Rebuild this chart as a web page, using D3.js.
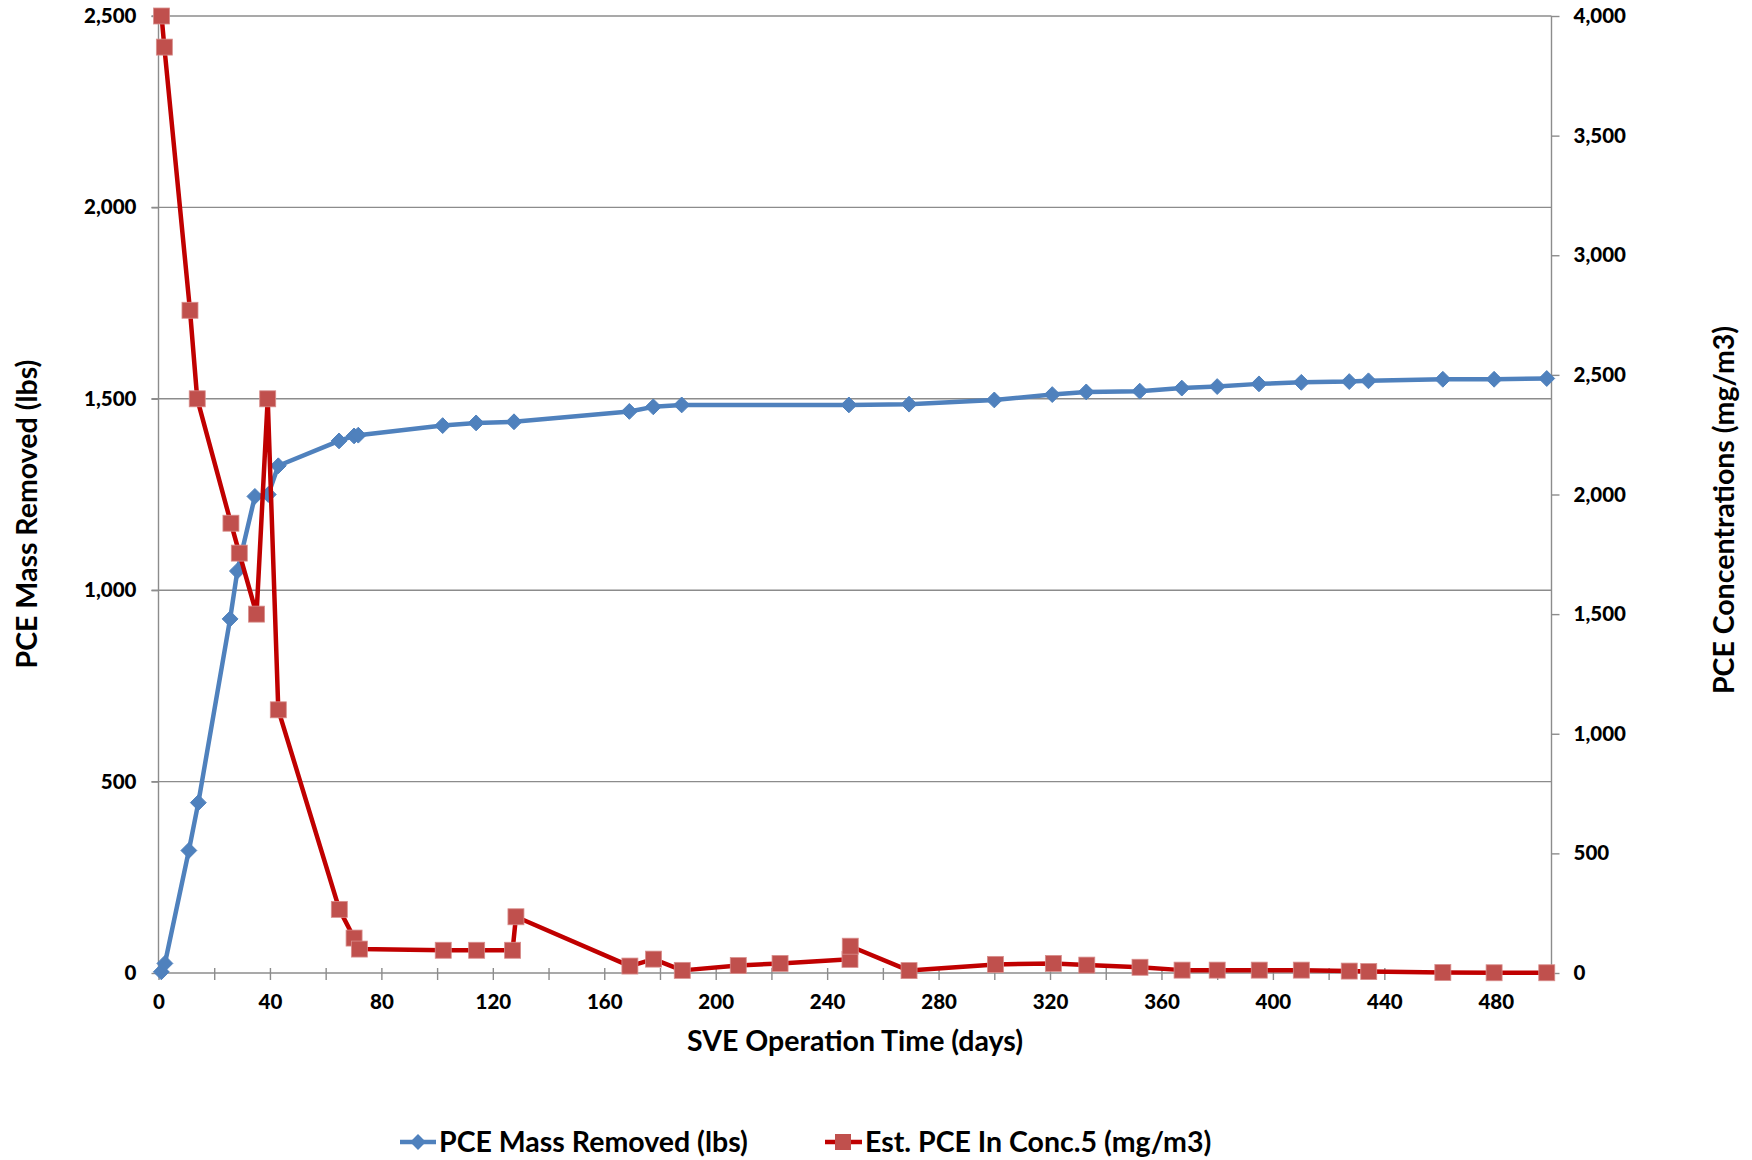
<!DOCTYPE html>
<html>
<head>
<meta charset="utf-8">
<script src="https://cdn.jsdelivr.net/npm/d3@7"></script>
<style>
    body { margin: 0; background: #fff; }
    svg text { font-family: Lato, "Open Sans", sans-serif; font-weight: bold; fill: #000; }
</style>
</head>
<body>
<svg id="chart" width="1752" height="1160"></svg>
<script>
/*
    SVE: removed PCE mass and estimated PCE concentration vs operation time.
*/

// PCE Mass Removed (lbs) - left axis
var massDays = [1, 2.3, 10.9, 14.3, 25.7, 28.3, 34.6, 39.4, 43, 64.8, 70.2, 71.7,
    102, 114, 127.6, 169, 177.6, 187.8, 247.8, 269.4, 300, 320.8, 333, 352.2,
    367.3, 380, 395, 410.2, 427.4, 434.3, 461, 479.4, 498.3];
var massLbs = [3, 25, 320, 445, 925, 1050, 1245, 1250, 1325, 1390, 1403, 1405,
    1430, 1437, 1440, 1467, 1479, 1484, 1484, 1486, 1497, 1511, 1518, 1520,
    1528, 1532, 1539, 1543, 1545, 1547, 1551, 1551, 1553];

// Est. PCE In Conc.5 (mg/m3) - right axis
var concDays = [1.1, 2.1, 11.3, 13.9, 26, 29, 35.2, 39.2, 43, 64.9, 70.2, 72.1,
    102.2, 114.2, 127.1, 128.3, 169.2, 177.7, 188, 208.1, 223.1, 248.2, 248.3,
    269.4, 300.4, 321.2, 333.2, 352.3, 367.4, 380, 395.1, 410.2, 427.4, 434.4,
    461, 479.4, 498.3];
var concMg = [4000, 3870, 2770, 2400, 1880, 1755, 1500, 2400, 1100, 266, 146, 100,
    95, 95, 95, 235, 29, 58, 11, 31, 40, 57, 112,
    10, 36, 40, 33, 24, 12, 12, 12, 12, 8, 6,
    2, 1, 1];

var xTicks = [0, 40, 80, 120, 160, 200, 240, 280, 320, 360, 400, 440, 480];
var xMinorTicks = d3.range(0, 501, 20);
var leftTicks = [0, 500, 1000, 1500, 2000, 2500];
var rightTicks = [0, 500, 1000, 1500, 2000, 2500, 3000, 3500, 4000];

var names = ["PCE Mass Removed (lbs)", "Est. PCE In Conc.5 (mg/m3)"];

var BLUE = "#4f81bd", RED_LINE = "#c00000", RED_MARK = "#c0504d", GRID = "#8c8c8c";

var m = {left: 158.5, right: 1551.5, top: 16, bottom: 973};

var svg = d3.select("#chart");

var x = d3.scaleLinear().domain([0, 500]).range([m.left, m.right]);
var yL = d3.scaleLinear().domain([0, 2500]).range([m.bottom, m.top]);
var yR = d3.scaleLinear().domain([0, 4000]).range([m.bottom, m.top]);

var fmt = d3.format(",");

///////////////////////
// Сетка и оси
///////////////////////

var grid = svg.append("g");
grid.selectAll("line")
    .data(leftTicks.slice(1))
    .enter().append("line")
        .attr("x1", m.left - 7)
        .attr("x2", m.right)
        .attr("y1", function(d) { return yL(d); })
        .attr("y2", function(d) { return yL(d); })
        .attr("stroke", GRID)
        .attr("stroke-width", 1.4);

// left axis
var gL = svg.append("g")
    .attr("transform", "translate(" + m.left + ",0)")
    .call(d3.axisLeft(yL).tickValues(leftTicks).tickFormat(fmt).tickSize(7).tickPadding(15));

// right axis
var gR = svg.append("g")
    .attr("transform", "translate(" + m.right + ",0)")
    .call(d3.axisRight(yR).tickValues(rightTicks).tickFormat(fmt).tickSize(8).tickPadding(14));

// bottom axis: ticks every 20, labels every 40
var gB = svg.append("g")
    .attr("transform", "translate(0," + m.bottom + ")")
    .call(d3.axisBottom(x).tickValues(xMinorTicks)
        .tickFormat(function(d) { return xTicks.indexOf(d) >= 0 ? d : ""; })
        .tickSize(7).tickPadding(14));

gB.selectAll(".tick line").attr("y1", -5);

[gL, gR, gB].forEach(function(g) {
    g.select(".domain").attr("stroke", GRID).attr("stroke-width", 1.4);
    g.selectAll(".tick line").attr("stroke", GRID).attr("stroke-width", 1.4);
    g.selectAll(".tick text")
        .style("font-size", "20.5px")
        .style("font-family", "Lato, sans-serif")
        .style("font-weight", "900")
        .attr("fill", "#000");
});
gL.select(".domain").attr("d", "M0," + m.top + "V" + m.bottom);
gR.select(".domain").attr("d", "M0," + m.top + "V" + m.bottom);
gB.select(".domain").attr("d", "M" + m.left + ",0H" + m.right);

///////////////////////
// Подписи осей
///////////////////////

svg.append("text")
    .attr("x", (m.left + m.right) / 2)
    .attr("y", 1051)
    .attr("text-anchor", "middle")
    .style("font-size", "28.5px")
    .text("SVE Operation Time (days)");

svg.append("text")
    .attr("transform", "translate(37,514) rotate(-90)")
    .attr("text-anchor", "middle")
    .style("font-size", "28.5px")
    .text("PCE Mass Removed (lbs)");

svg.append("text")
    .attr("transform", "translate(1734,510) rotate(-90)")
    .attr("text-anchor", "middle")
    .style("font-size", "28.5px")
    .text("PCE Concentrations (mg/m3)");

///////////////////////
// Серии
///////////////////////

var massPts = massDays.map(function(d, i) { return [d, massLbs[i]]; });
var concPts = concDays.map(function(d, i) { return [d, concMg[i]]; });

var lineL = d3.line().x(function(d) { return x(d[0]); }).y(function(d) { return yL(d[1]); });
var lineR = d3.line().x(function(d) { return x(d[0]); }).y(function(d) { return yR(d[1]); });

var diamond = d3.symbol().type(d3.symbolDiamond2).size(160);

svg.append("path")
    .datum(massPts)
    .attr("d", lineL)
    .attr("fill", "none")
    .attr("stroke", BLUE)
    .attr("stroke-width", 4.5)
    .attr("stroke-linejoin", "round")
    .attr("stroke-linecap", "round");

svg.append("g").selectAll("path")
    .data(massPts)
    .enter().append("path")
        .attr("transform", function(d) { return "translate(" + x(d[0]) + "," + yL(d[1]) + ")"; })
        .attr("d", diamond)
        .attr("fill", BLUE)
        .attr("stroke", BLUE)
        .attr("stroke-width", 1);

svg.append("path")
    .datum(concPts)
    .attr("d", lineR)
    .attr("fill", "none")
    .attr("stroke", RED_LINE)
    .attr("stroke-width", 4.5)
    .attr("stroke-linejoin", "round")
    .attr("stroke-linecap", "round");

svg.append("g").selectAll("rect")
    .data(concPts)
    .enter().append("rect")
        .attr("x", function(d) { return x(d[0]) - 8; })
        .attr("y", function(d) { return yR(d[1]) - 8; })
        .attr("width", 16)
        .attr("height", 16)
        .attr("fill", RED_MARK)
        .attr("stroke", "#d88e8c")
        .attr("stroke-width", 0.8);

///////////////////////
// Легенда
///////////////////////

var legend = svg.append("g").attr("transform", "translate(0,1142)");

var lg1 = legend.append("g").attr("transform", "translate(400,0)");
lg1.append("line").attr("x1", 0).attr("x2", 36).attr("stroke", BLUE).attr("stroke-width", 4.5);
lg1.append("path").attr("transform", "translate(18,0)").attr("d", diamond).attr("fill", BLUE);
lg1.append("text").attr("x", 39).attr("y", 10).style("font-size", "28.5px").text(names[0]);

var lg2 = legend.append("g").attr("transform", "translate(825,0)");
lg2.append("line").attr("x1", 0).attr("x2", 37).attr("stroke", RED_LINE).attr("stroke-width", 4.5);
lg2.append("rect").attr("x", 10).attr("y", -8).attr("width", 16).attr("height", 16).attr("fill", RED_MARK);
lg2.append("text").attr("x", 40).attr("y", 10).style("font-size", "28.5px").text(names[1]);
</script>
</body>
</html>
